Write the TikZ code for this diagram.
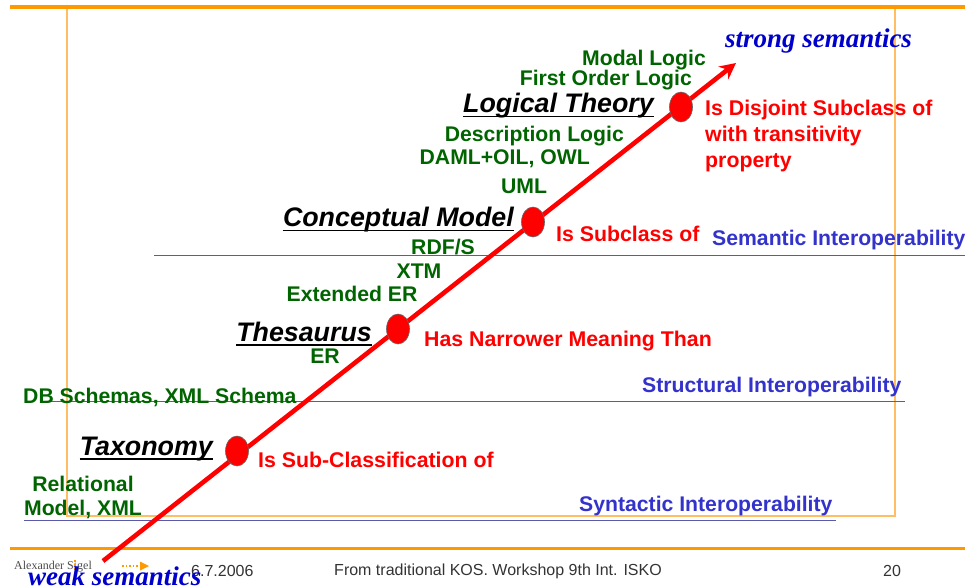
\documentclass[tikz,border=0pt]{standalone}
\usepackage{fontspec}
\setmainfont{Liberation Sans}
\newfontfamily\serifx{Liberation Serif}
\usetikzlibrary{arrows.meta,shapes.geometric}
\definecolor{korange}{RGB}{255,153,0}
\definecolor{kframe}{RGB}{255,190,100}
\definecolor{kgreen}{RGB}{0,100,0}
\definecolor{kblue}{RGB}{51,51,204}
\definecolor{kdeep}{RGB}{0,0,204}
\definecolor{kline}{RGB}{90,90,170}
\tikzset{
  x=1pt,y=-1pt,
  gtext/.style={font=\fontsize{21.2}{23}\selectfont\bfseries,text=kgreen,inner sep=0pt,align=center},
  rtext/.style={font=\fontsize{21.3}{26}\selectfont\bfseries,text=red,inner sep=0pt,align=left,anchor=west},
  btext/.style={font=\fontsize{21.2}{23}\selectfont\bfseries,text=kblue,inner sep=0pt},
  level/.style={font=\fontsize{26.8}{29}\selectfont\bfseries\itshape,text=black,inner sep=0pt},
  sem/.style={font=\serifx\fontsize{27}{29}\selectfont\bfseries\itshape,text=kdeep,inner sep=0pt},
  dotnode/.style={ellipse,draw=black!60,fill=red,line width=.6pt,minimum width=23pt,minimum height=30pt,inner sep=0pt},
  foot/.style={font=\fontsize{16}{18}\selectfont,text=black!80,inner sep=0pt},
  hline/.style={kline,line width=.8pt},
  uline/.style={black,line width=1.6pt},
}
\begin{document}
\begin{tikzpicture}
\useasboundingbox (0,0) rectangle (965,588);
% frame and bars
\draw[kframe,line width=1.2pt] (67,8) rectangle (895,516);
\draw[korange,line width=3.5pt] (10,7) -- (965,7);
\draw[korange,line width=3.5pt] (10,548.5) -- (965,548.5);
% level lines
\draw[hline] (154,255.5) -- (965,255.5);
\draw[hline] (40,401.5) -- (905,401.5);
\draw[hline] (24,520.5) -- (836,520.5);
% main arrow
\coordinate (tail) at (103,561);
\coordinate (head) at (736,63);
\draw[red,line width=4.6pt,-{Stealth[length=16pt,width=16pt]}] (tail) -- (head);
% dots
\node[dotnode] (d1) at (237,451) {};
\node[dotnode] (d2) at (398,329) {};
\node[dotnode] (d3) at (533,222) {};
\node[dotnode] (d4) at (681,107) {};
% level names
\node[level,anchor=east] (t1) at (213,449) {Taxonomy};
\node[level,anchor=east] (t2) at (372,332) {Thesaurus};
\node[level,anchor=east] (t3) at (514,220) {Conceptual Model};
\node[level,anchor=east] (t4) at (654,106) {Logical Theory};
\foreach \t in {t1,t2,t3,t4}{
  \draw[uline] ([yshift=-3.5pt]\t.base west) -- ([yshift=-3.5pt]\t.base east);
}
% green labels
\node[gtext,anchor=east] (g1) at (706,60) {Modal Logic};
\node[gtext,anchor=east] (g2) at (692,80) {First Order Logic};
\node[gtext,anchor=east] (g3) at (624,136) {Description Logic};
\node[gtext,anchor=east] (g4) at (590,159) {DAML+OIL, OWL};
\node[gtext] (g5) at (524,186) {UML};
\node[gtext] (g6) at (443,247) {RDF/S};
\node[gtext] (g7) at (419,271) {XTM};
\node[gtext] (g8) at (352,294) {Extended ER};
\node[gtext] (g9) at (325,356) {ER};
\node[gtext,anchor=west] (g10) at (23,397) {DB Schemas, XML Schema};
\node[gtext] (g11) at (83,497) {Relational\\[1pt]Model, XML};
% red labels
\node[rtext] (r1) at (705,136) {Is Disjoint Subclass of\\with transitivity\\property};
\node[rtext] (r2) at (556,234) {Is Subclass of};
\node[rtext] (r3) at (424,341) {Has Narrower Meaning Than};
\node[rtext] (r4) at (258,460) {Is Sub-Classification of};
% blue labels
\node[btext,anchor=west] (b1) at (712,240) {Semantic Interoperability};
\node[btext,anchor=west] (b2) at (642,387) {Structural Interoperability};
\node[btext,anchor=west] (b3) at (579,506) {Syntactic Interoperability};
% footer
\node[font=\serifx\fontsize{12}{13}\selectfont,text=black!70,inner sep=0pt,anchor=west] (logo) at (14,567) {Alexander Sigel};
\draw[korange,line width=1.5pt,dotted] (122,566) -- (140,566);
\fill[korange] (140,561.5) -- (149,566) -- (140,570.5) -- cycle;
\draw[korange,line width=2pt,dotted] (75,560) -- (75,588);
\node[foot,anchor=west] (f1) at (191,571) {6.7.2006};
\node[foot] (f2) at (498,571) {From traditional KOS. Workshop 9th Int. ISKO};
\node[foot] (f3) at (892,571) {20};
% semantics
\node[sem,anchor=west] (s1) at (725,41) {strong semantics};
\node[sem,anchor=west] (s2) at (28,576) {weak semantics};
\end{tikzpicture}
\end{document}
